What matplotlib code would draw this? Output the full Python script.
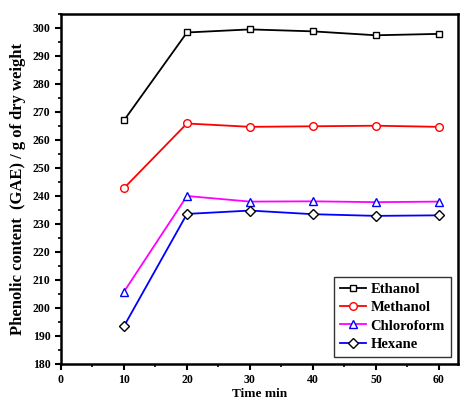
import matplotlib
matplotlib.use("Agg")
import matplotlib.pyplot as plt
from matplotlib.ticker import MultipleLocator

plt.rcParams['font.family'] = ['Liberation Serif', 'DejaVu Serif']
plt.rcParams['font.weight'] = 'bold'

time = [10, 20, 30, 40, 50, 60]
ethanol = [267, 298.4, 299.5, 298.8, 297.4, 297.9]
methanol = [242.8, 265.9, 264.7, 264.9, 265.1, 264.7]
chloroform = [205.8, 240.0, 238.0, 238.1, 237.8, 238.0]
hexane = [193.5, 233.6, 234.8, 233.5, 232.9, 233.1]

fig = plt.figure(figsize=(4.62, 4.0), dpi=100)
ax = fig.add_axes([0.132, 0.09, 0.859, 0.875])

ax.plot(time, ethanol, '-', color='black', marker='s', mfc='white', mec='black', ms=5, mew=1.0, lw=1.3, label='Ethanol')
ax.plot(time, methanol, '-', color='red', marker='o', mfc='white', mec='red', ms=5.5, mew=1.0, lw=1.3, label='Methanol')
ax.plot(time, chloroform, '-', color='magenta', marker='^', mfc='white', mec='blue', ms=5.5, mew=1.0, lw=1.3, label='Chloroform')
ax.plot(time, hexane, '-', color='blue', marker='D', mfc='white', mec='black', ms=5, mew=1.0, lw=1.3, label='Hexane')

ax.set_xlim(0, 63)
ax.set_ylim(180, 305)
ax.xaxis.set_major_locator(MultipleLocator(10))
ax.xaxis.set_minor_locator(MultipleLocator(5))
ax.yaxis.set_major_locator(MultipleLocator(10))
ax.yaxis.set_minor_locator(MultipleLocator(5))
ax.tick_params(which='major', direction='out', length=4, width=1.5, labelsize=8.5)
ax.tick_params(which='minor', direction='out', length=2, width=1.2)
for s in ax.spines.values():
    s.set_linewidth(1.8)
for lab in ax.get_xticklabels() + ax.get_yticklabels():
    lab.set_fontweight('bold')

ax.set_xlabel('Time min', fontsize=9.5, fontweight='bold', labelpad=1)
ax.set_ylabel('Phenolic content  (GAE) / g of dry weight', fontsize=12, fontweight='bold', labelpad=5)

leg = ax.legend(loc='lower right', fontsize=10.5, frameon=True, fancybox=False,
                edgecolor='black', handlelength=1.8, handletextpad=0.3,
                borderaxespad=0.5, labelspacing=0.35, borderpad=0.4)
leg.get_frame().set_linewidth(1.0)
for t in leg.get_texts():
    t.set_fontweight('bold')

fig.savefig('out.png', dpi=100)
